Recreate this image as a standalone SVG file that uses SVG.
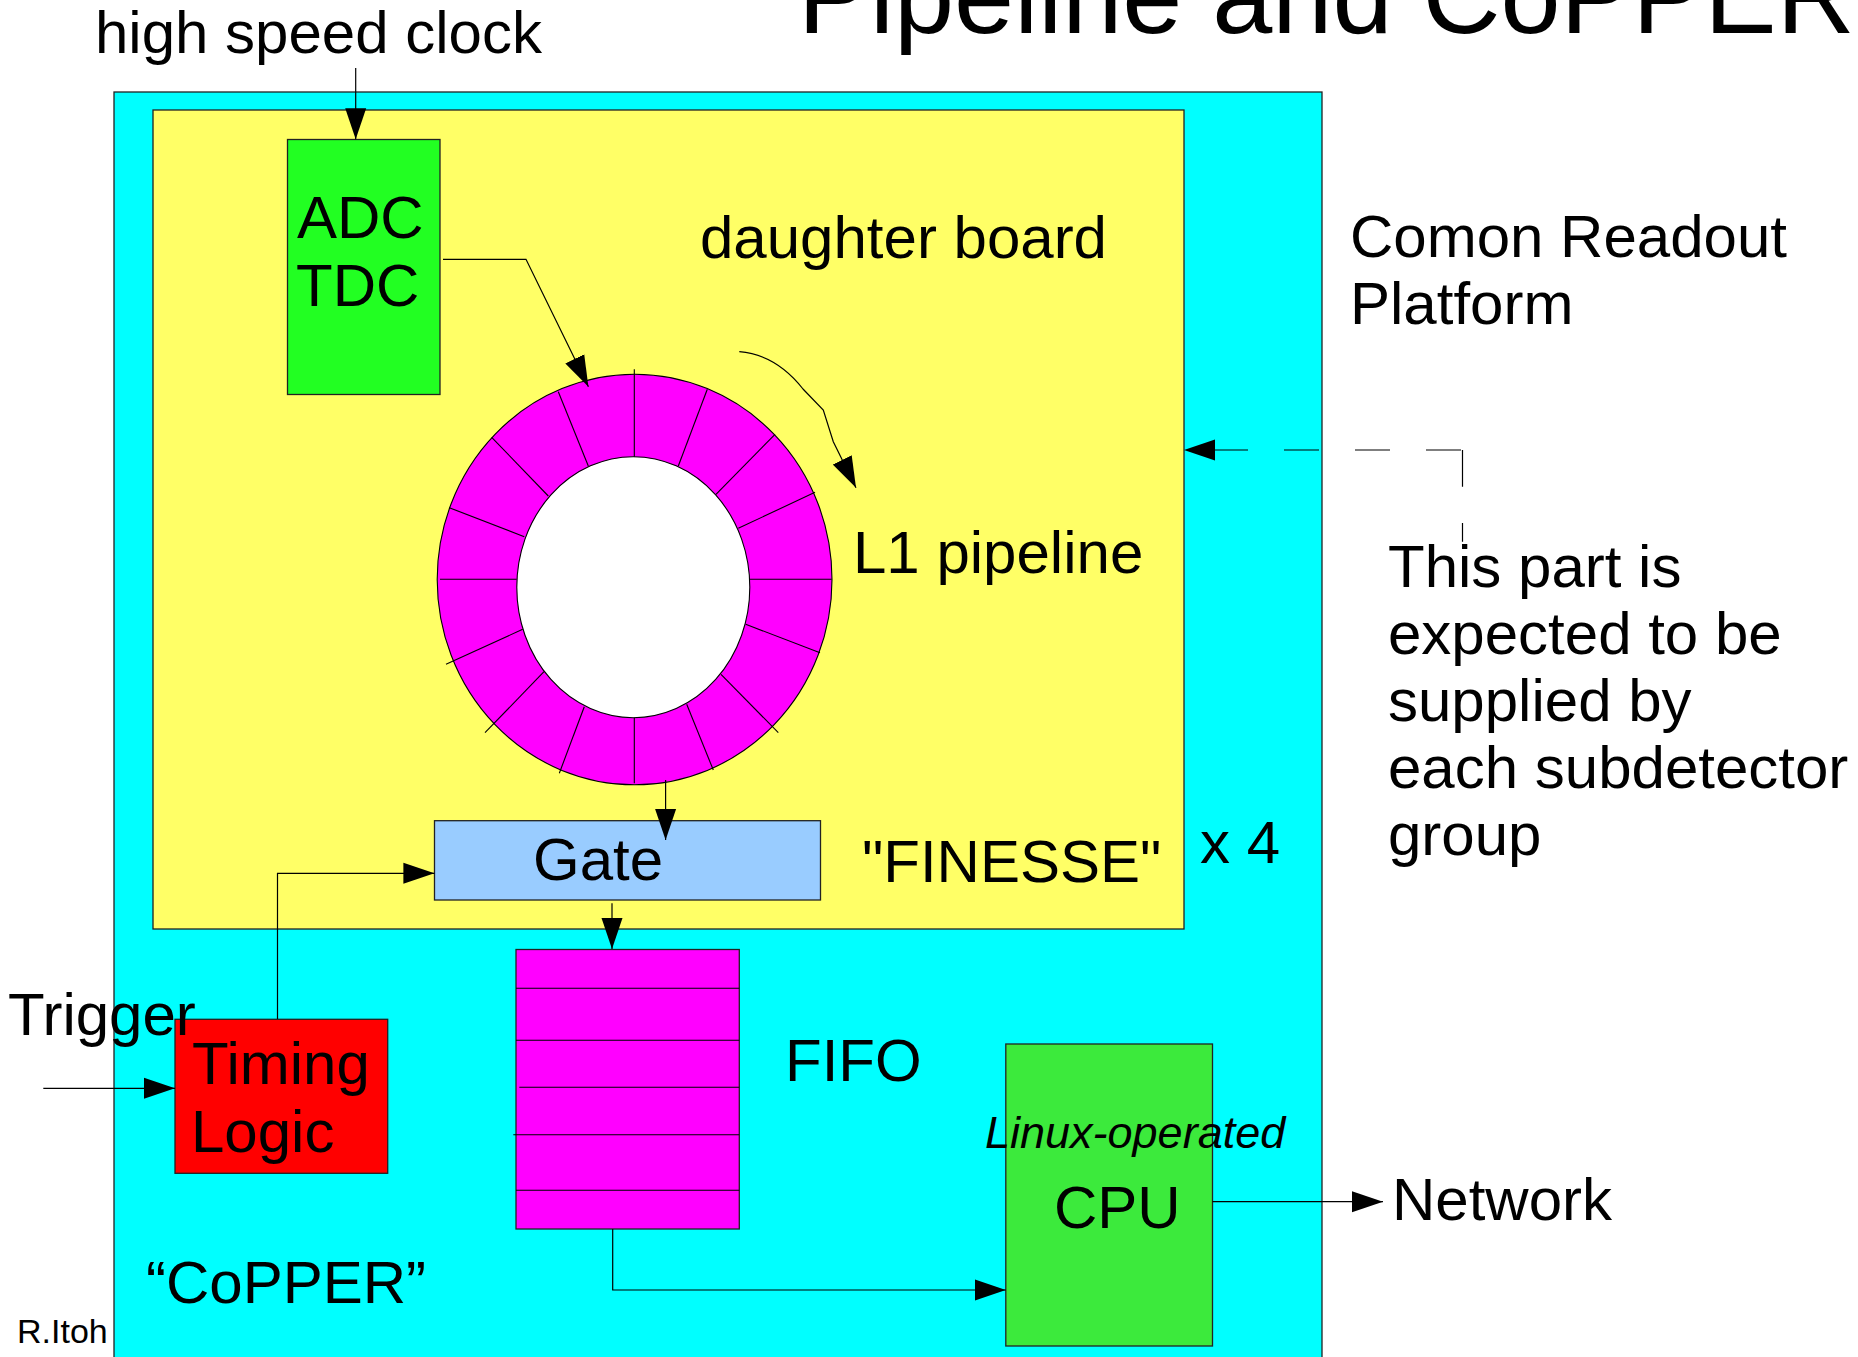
<svg xmlns="http://www.w3.org/2000/svg" width="1858" height="1357" viewBox="0 0 1858 1357">
<style>
text{font-family:"Liberation Sans",Arial,sans-serif;fill:#000}
.t60{font-size:60px}
.box{stroke:#222;stroke-width:1.3}
.ln{stroke:#000;stroke-width:1.2;fill:none}
.seg{stroke:#000;stroke-width:1.1}
</style>
<defs>
<marker id="ah" markerUnits="userSpaceOnUse" markerWidth="32" markerHeight="22" refX="31" refY="10.5" orient="auto" viewBox="0 0 32 21">
<path d="M0,0 L31,10.5 L0,21 z" fill="#000"/>
</marker>
</defs>
<rect width="1858" height="1357" fill="#fff"/>
<text x="798" y="33" style="font-size:108px">Pipeline and CoPPER</text>
<text class="t60" x="95" y="53">high speed clock</text>
<g id="copper">
<rect class="box" x="114" y="92" width="1208" height="1275" fill="#00ffff"/>
<text class="t60" x="146" y="1303">“CoPPER”</text>
</g>
<g id="daughter-board">
<rect class="box" x="153" y="110" width="1031" height="819" fill="#ffff66"/>
<text class="t60" x="700" y="258">daughter board</text>
<text class="t60" x="862" y="882">"FINESSE"</text>
</g>
<g id="adc">
<rect class="box" x="287.5" y="139.5" width="152.5" height="255" fill="#22ff22"/>
<text class="t60" x="297" y="238">ADC</text>
<text class="t60" x="296" y="306">TDC</text>
</g>
<g id="l1-pipeline">
<ellipse cx="634.6" cy="579.5" rx="197.4" ry="205.3" fill="#ff00ff" stroke="#000" stroke-width="1.1"/>
<ellipse cx="633.3" cy="587.2" rx="116.5" ry="130.5" fill="#fff" stroke="#000" stroke-width="1.1"/>
<g class="seg">
<line x1="634.3" y1="369.3" x2="634.3" y2="456.7"/>
<line x1="634.3" y1="717.7" x2="634.3" y2="783.3"/>
<line x1="440" y1="579.3" x2="516.7" y2="579.3"/>
<line x1="750" y1="579.3" x2="831.7" y2="579.3"/>
<line x1="558.3" y1="391.7" x2="588.3" y2="466"/>
<line x1="707.3" y1="389.3" x2="678.3" y2="466"/>
<line x1="491.7" y1="437.3" x2="548.3" y2="496"/>
<line x1="775" y1="434.3" x2="716" y2="494.3"/>
<line x1="449.3" y1="507.7" x2="524.3" y2="536.7"/>
<line x1="815" y1="492.3" x2="738.3" y2="528.3"/>
<line x1="446" y1="664.3" x2="522.7" y2="629.3"/>
<line x1="820" y1="652.7" x2="745.7" y2="624.3"/>
<line x1="485" y1="732.7" x2="544" y2="671.7"/>
<line x1="778.3" y1="732.7" x2="721" y2="674.3"/>
<line x1="559.3" y1="773.3" x2="584.3" y2="706.7"/>
<line x1="713.3" y1="770" x2="686.7" y2="704.3"/>
</g>
<text class="t60" x="853" y="573">L1 pipeline</text>
</g>
<g id="gate">
<rect class="box" x="434.5" y="820.7" width="386" height="79.3" fill="#99ccff"/>
<text class="t60" x="533" y="880">Gate</text>
</g>
<g id="fifo">
<rect class="box" x="516" y="949.5" width="223.3" height="279.5" fill="#ff00ff"/>
<g class="seg">
<line x1="516" y1="988.3" x2="739.3" y2="988.3"/>
<line x1="516" y1="1040.3" x2="739.3" y2="1040.3"/>
<line x1="519.3" y1="1087.3" x2="739.3" y2="1087.3"/>
<line x1="513.3" y1="1134.7" x2="739.3" y2="1134.7"/>
<line x1="516" y1="1190.3" x2="739.3" y2="1190.3"/>
</g>
<text class="t60" x="785" y="1081">FIFO</text>
</g>
<g id="timing-logic">
<rect class="box" x="175" y="1019.3" width="212.7" height="154" fill="#ff0000"/>
<text class="t60" x="192" y="1084">Timing</text>
<text class="t60" x="191" y="1152">Logic</text>
</g>
<g id="cpu">
<rect class="box" x="1005.8" y="1044" width="206.7" height="302" fill="#3cea3c"/>
<text x="985" y="1148" style="font-size:45px;font-style:italic">Linux-operated</text>
<text class="t60" x="1054" y="1228">CPU</text>
</g>
<g id="labels">
<text class="t60" x="8" y="1035">Trigger</text>
<text class="t60" x="1200" y="863">x 4</text>
<text class="t60" x="1350" y="257">Comon Readout</text>
<text class="t60" x="1350" y="324">Platform</text>
<text class="t60" x="1388" y="587">This part is</text>
<text class="t60" x="1388" y="654">expected to be</text>
<text class="t60" x="1388" y="721">supplied by</text>
<text class="t60" x="1388" y="788">each subdetector</text>
<text class="t60" x="1388" y="855">group</text>
<text class="t60" x="1392" y="1220">Network</text>
<text x="17" y="1343" style="font-size:34px">R.Itoh</text>
</g>
<g id="connectors">
<path class="ln" d="M355.7,68 V139.3" marker-end="url(#ah)"/>
<path class="ln" d="M443,259.3 H526 L588.4,386.7" marker-end="url(#ah)"/>
<path class="ln" d="M739.3,351.7 C768,354 788,370 803,389 L823.3,410 L833.3,441.7 L856,487.7" marker-end="url(#ah)"/>
<path class="ln" d="M665.6,780 V840" marker-end="url(#ah)"/>
<path class="ln" d="M612,903.3 V949" marker-end="url(#ah)"/>
<path class="ln" d="M277.5,1019 V873.3 H434.4" marker-end="url(#ah)"/>
<path class="ln" d="M43.3,1088.3 H175" marker-end="url(#ah)"/>
<path class="ln" d="M612.7,1229 V1290 H1005.8" marker-end="url(#ah)"/>
<path class="ln" d="M1212.5,1201.7 H1383" marker-end="url(#ah)"/>
<path class="ln" d="M1461,450 H1184" stroke-dasharray="35 36" marker-end="url(#ah)"/>
<path class="ln" d="M1462.5,450 V541.7" stroke-dasharray="36.7 36.3" stroke="#555"/>
</g>
</svg>
